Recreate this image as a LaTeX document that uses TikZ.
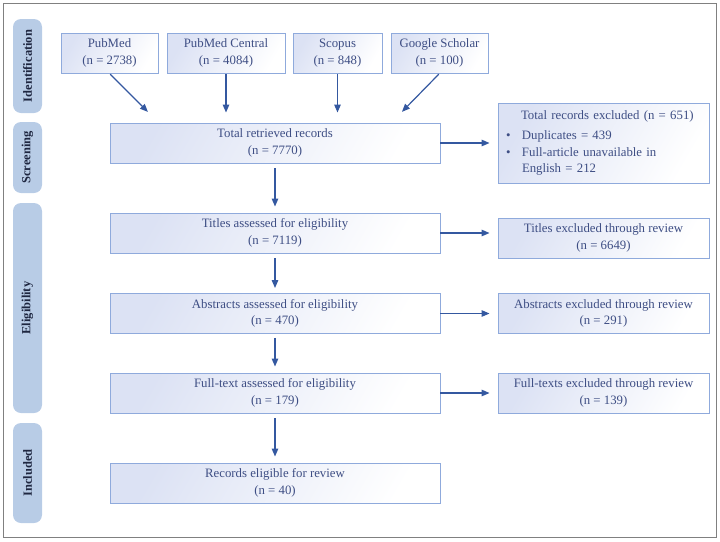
\documentclass[tikz,border=0pt]{standalone}
\usepackage{fontspec}
\setmainfont{Liberation Serif}
\usetikzlibrary{arrows.meta,calc}
\definecolor{boxline}{RGB}{143,170,220}
\definecolor{boxfill}{RGB}{220,226,244}
\definecolor{arrowc}{RGB}{52,88,160}
\definecolor{txtc}{RGB}{62,78,132}
\definecolor{sidefill}{RGB}{184,204,230}
\definecolor{sidetxt}{RGB}{30,38,64}
\definecolor{framec}{RGB}{128,128,128}
\tikzset{
  flowbox/.style={draw=boxline, line width=0.9pt, left color=boxfill, right color=white,
    shading angle=60, minimum height=40pt, inner sep=2pt, align=center,
    text=txtc, font=\fontsize{12.8}{16.5}\selectfont},
  sidebox/.style={draw=none, fill=sidefill, rounded corners=8pt, minimum height=29pt,
    text=sidetxt, font=\fontsize{12.5}{14}\selectfont\bfseries, rotate=90},
  flowarrow/.style={draw=arrowc, line width=1.2pt, -{Triangle[length=8pt,width=6.5pt]}}
}
\begin{document}
\begin{tikzpicture}[x=1pt,y=-1pt]
\useasboundingbox (0,0) rectangle (720,541);
\draw[framec, line width=1pt] (3,3) rectangle (716.5,537.5);
% side labels
\node[sidebox, minimum width=94pt] (sid) at (27.5,66) {Identification};
\node[sidebox, minimum width=71pt] (sscr) at (27.5,157.5) {Screening};
\node[sidebox, minimum width=210pt] (seli) at (27.5,308) {Eligibility};
\node[sidebox, minimum width=100pt] (sinc) at (27.5,473) {Included};
% sources
\node[flowbox, minimum width=97pt] (pm) at (109.5,53) {PubMed\\(n = 2738)};
\node[flowbox, minimum width=118pt] (pmc) at (226,53) {PubMed Central\\(n = 4084)};
\node[flowbox, minimum width=89pt] (sc) at (337.5,53) {Scopus\\(n = 848)};
\node[flowbox, minimum width=97pt] (gs) at (439.5,53) {Google Scholar\\(n = 100)};
% main column
\node[flowbox, minimum width=330pt] (tot) at (275,143) {Total retrieved records\\(n = 7770)};
\node[flowbox, minimum width=330pt] (tit) at (275,233) {Titles assessed for eligibility\\(n = 7119)};
\node[flowbox, minimum width=330pt] (abs) at (275,313.5) {Abstracts assessed for eligibility\\(n = 470)};
\node[flowbox, minimum width=330pt] (ft) at (275,393) {Full-text assessed for eligibility\\(n = 179)};
\node[flowbox, minimum width=330pt] (rec) at (275,483) {Records eligible for review\\(n = 40)};
% exclusions
\node[flowbox, minimum width=211pt, minimum height=80pt, text width=195pt, inner xsep=8pt, align=left] (exc) at (603.5,143)
  {\hspace*{15pt}Total records excluded (n = 651)\\[4pt]
   \makebox[16pt][l]{\textbullet}Duplicates = 439\\
   \makebox[16pt][l]{\textbullet}Full-article unavailable in\\
   \hspace*{16pt}English = 212};
\node[flowbox, minimum width=211pt] (tex) at (603.5,238) {Titles excluded through review\\(n = 6649)};
\node[flowbox, minimum width=211pt] (aex) at (603.5,313.5) {Abstracts excluded through review\\(n = 291)};
\node[flowbox, minimum width=211pt] (fex) at (603.5,393) {Full-texts excluded through review\\(n = 139)};
% arrows
\draw[flowarrow, shorten <=1pt, shorten >=15pt] (pm.south) -- ($(tot.north west)+(49,0)$);
\draw[flowarrow, shorten <=1pt, shorten >=10pt] (pmc.south) -- (pmc.south |- tot.north);
\draw[flowarrow, shorten <=1pt, shorten >=10pt] (sc.south) -- (sc.south |- tot.north);
\draw[flowarrow, shorten <=1pt, shorten >=15pt] (gs.south) -- ($(tot.north east)+(-49,0)$);
\draw[flowarrow, shorten >=8pt] (tot.east) -- (exc.west);
\draw[flowarrow, shorten >=8pt] (tit.east) -- (tit.east -| tex.west);
\draw[flowarrow, shorten >=8pt] (abs.east) -- (aex.west);
\draw[flowarrow, shorten >=8pt] (ft.east) -- (fex.west);
\draw[flowarrow, shorten <=5pt, shorten >=6pt] (tot.south) -- (tit.north);
\draw[flowarrow, shorten <=5pt, shorten >=5pt] (tit.south) -- (abs.north);
\draw[flowarrow, shorten <=4pt, shorten >=6pt] (abs.south) -- (ft.north);
\draw[flowarrow, shorten <=5pt, shorten >=6pt] (ft.south) -- (rec.north);
\end{tikzpicture}
\end{document}
